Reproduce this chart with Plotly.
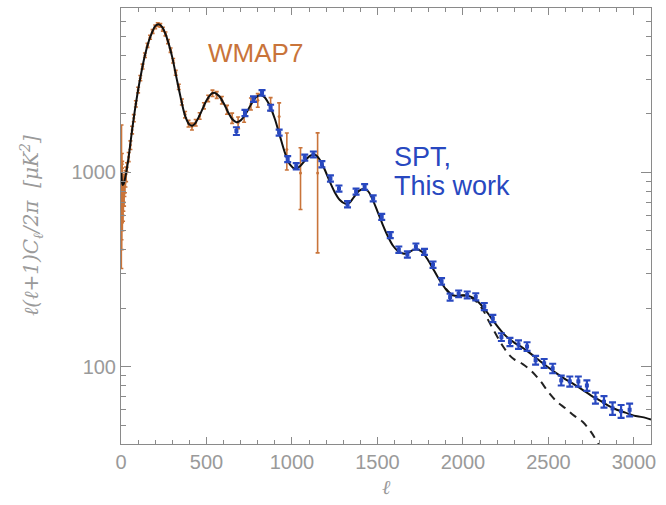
import plotly.graph_objects as go
import math

# ---------------- data ----------------
theory_ell = [2, 5, 10, 15, 20, 30, 40, 50, 65, 80, 100, 120, 140, 160, 180, 200, 220, 240, 260, 280,
              300, 325, 350, 375, 400, 420, 440, 470, 500, 530, 550, 575, 600, 625, 650, 675, 700, 730,
              760, 790, 815, 840, 870, 900, 930, 960, 990, 1020, 1050, 1080, 1110, 1135, 1160, 1190,
              1220, 1250, 1280, 1310, 1335, 1360, 1390, 1420, 1445, 1470, 1500, 1530, 1560, 1590, 1620,
              1650, 1675, 1700, 1730, 1760, 1790, 1820, 1850, 1880, 1910, 1940, 1970, 2000, 2030, 2060,
              2090, 2120, 2150, 2180, 2210, 2240, 2270, 2300, 2350, 2400, 2450, 2500, 2550, 2600, 2650,
              2700, 2750, 2800, 2850, 2900, 2950, 3000, 3050, 3100]
theory_dl = [1000, 900, 860, 870, 900, 990, 1120, 1300, 1650, 2050, 2650, 3300, 4000, 4650, 5200, 5650,
             5780, 5600, 5150, 4550, 3900, 3050, 2400, 1950, 1760, 1740, 1820, 2050, 2340, 2540, 2560,
             2460, 2270, 2050, 1880, 1810, 1850, 2000, 2230, 2430, 2500, 2430, 2200, 1880, 1530, 1250,
             1090, 1040, 1080, 1160, 1220, 1230, 1170, 1040, 900, 790, 720, 690, 695, 740, 800, 820, 800,
             730, 630, 540, 470, 420, 393, 382, 383, 395, 402, 390, 360, 325, 292, 265, 244, 233, 231,
             233, 232, 226, 215, 201, 186, 171, 158, 147, 139, 133, 125, 116, 107, 99, 92, 86, 81, 76, 71,
             67, 63, 60, 58, 56, 55, 53.5]

dashed_ell = [1900, 1940, 1970, 2000, 2030, 2060, 2090, 2120, 2150, 2180, 2210, 2240, 2270, 2300, 2350,
              2400, 2450, 2500, 2550, 2600, 2650, 2700, 2750, 2800, 2830]
dashed_dl = [252, 233, 231, 232, 230, 223, 211, 194, 172, 154, 138, 125, 115, 109, 103, 95, 85, 74, 66,
             61, 56, 52, 46, 39, 36]

wmap_ell = [2, 3, 4, 5, 6, 7, 8, 9, 10, 12, 14, 16, 18, 20, 23, 26, 30,
            35, 45, 55, 65, 75, 87, 100, 113, 126, 140, 155, 170, 185, 200, 215, 230, 245, 260, 275,
            290, 305, 320, 338, 356, 375, 395, 415, 437, 460, 485, 510, 535, 560, 590, 620, 650, 685,
            720, 760, 800, 875, 925, 970, 1050, 1150]
wmap_dl = [720, 1100, 750, 950, 800, 920, 680, 800, 750, 700, 760, 820, 780, 850, 880, 930, 980,
           1060, 1200, 1380, 1650, 1900, 2250, 2650, 3050, 3500, 4000, 4500, 4950, 5300, 5600, 5750,
           5700, 5450, 5150, 4700, 4250, 3750, 3250, 2750, 2300, 1980, 1780, 1720, 1800, 1950, 2200,
           2400, 2550, 2500, 2350, 2100, 1900, 1800, 1950, 2250, 2350, 2240, 1935, 1310, 990, 990]
wmap_err = [400, 650, 350, 300, 250, 220, 180, 170, 150, 140, 130, 120, 110, 100, 95, 90, 85,
            60, 65, 70, 75, 80, 85, 90, 95, 100, 105, 110, 115, 120, 125, 125, 125, 125, 120, 115,
            110, 100, 95, 85, 80, 75, 70, 70, 70, 75, 80, 90, 95, 100, 105, 110, 115, 125, 140, 160,
            190, 180, 340, 282, 347, 605]

spt_ell = [675, 725, 775, 825, 875, 925, 975, 1025, 1075, 1125, 1175, 1225, 1275, 1325, 1375, 1425,
           1475, 1525, 1575, 1625, 1675, 1725, 1775, 1825, 1875, 1925, 1975, 2025, 2075, 2125, 2175,
           2225, 2275, 2325, 2375, 2425, 2475, 2525, 2575, 2625, 2675, 2725, 2775, 2825, 2875, 2925,
           2975]
spt_dl = [1630, 2020, 2380, 2560, 2150, 1600, 1170, 1075, 1190, 1235, 1100, 930, 825, 685, 795, 840,
          735, 590, 475, 400, 378, 415, 390, 335, 275, 228, 237, 234, 229, 204, 177, 142, 134, 130,
          127, 108, 104, 98, 85, 84, 84, 80, 69, 66, 61, 59, 60]
spt_err = [75, 75, 80, 85, 75, 58, 42, 40, 42, 44, 40, 34, 30, 25, 28, 29, 26, 21, 17, 15, 14, 15,
           14, 12.5, 10.5, 9.5, 9.5, 9.5, 9.5, 8.5, 7.5, 6.5, 6.5, 6.5, 6.5, 5.5, 5.5, 5.5, 5, 5, 5,
           5, 4.5, 4.5, 4.5, 4.5, 4.5]

x_ticks = [0, 500, 1000, 1500, 2000, 2500, 3000]
y_ticks = [100, 1000]
y_minor = [40, 50, 60, 70, 80, 90, 200, 300, 400, 500, 600, 700, 800, 900,
           2000, 3000, 4000, 5000, 6000, 7000]

ORANGE = "#c9743a"
BLUE = "#2848c0"
GRAY = "#8a8a8a"
LABEL = "#9a9a9a"

fig = go.Figure()

fig.add_trace(go.Scatter(
    x=wmap_ell, y=wmap_dl, mode="markers",
    marker=dict(color=ORANGE, size=3),
    error_y=dict(type="data", array=wmap_err, color=ORANGE, thickness=1.6, width=2),
    showlegend=False))

fig.add_trace(go.Scatter(
    x=dashed_ell, y=dashed_dl, mode="lines",
    line=dict(color="#222222", width=2, dash="8px,6px", shape="spline"),
    showlegend=False))

fig.add_trace(go.Scatter(
    x=theory_ell, y=theory_dl, mode="lines",
    line=dict(color="#111111", width=2, shape="spline", smoothing=0.8),
    showlegend=False))

fig.add_trace(go.Scatter(
    x=spt_ell, y=spt_dl, mode="markers",
    marker=dict(color=BLUE, size=4, symbol="square"),
    error_y=dict(type="data", array=spt_err, color=BLUE, thickness=2.2, width=3.5),
    showlegend=False))

fig.update_layout(
    width=666, height=505,
    margin=dict(l=121, r=15, t=8, b=61),
    paper_bgcolor="white", plot_bgcolor="white",
    font=dict(family="Liberation Sans, Arial, sans-serif", color=LABEL),
    xaxis=dict(
        range=[0, 3100], tickvals=x_ticks, ticktext=[str(v) for v in x_ticks],
        ticks="inside", ticklen=7, tickcolor=GRAY, tickwidth=1,
        showline=True, linecolor=GRAY, linewidth=1, mirror="allticks",
        showgrid=False, zeroline=False,
        tickfont=dict(size=20, color=LABEL),
        minor=dict(dtick=100, tick0=0, ticks="inside", ticklen=4, tickcolor=GRAY, showgrid=False),
    ),
    yaxis=dict(
        type="log", range=[math.log10(40), math.log10(7000)],
        tickvals=y_ticks, ticktext=[str(v) for v in y_ticks],
        ticks="inside", ticklen=10, tickcolor=GRAY, tickwidth=1,
        showline=True, linecolor=GRAY, linewidth=1, mirror="allticks",
        showgrid=False, zeroline=False,
        tickfont=dict(size=20, color=LABEL),
        minor=dict(tickvals=y_minor, ticks="inside", ticklen=5, tickcolor=GRAY, showgrid=False),
    ),
    annotations=[
        dict(text="WMAP7", xref="paper", yref="paper", x=(206 - 121) / 530, y=(444 - 53) / 436,
             xanchor="left", yanchor="middle", showarrow=False,
             font=dict(size=26, color=ORANGE, family="Liberation Sans, Arial, sans-serif")),
        dict(text="SPT,", xref="paper", yref="paper", x=(392 - 121) / 530, y=(444 - 157) / 436,
             xanchor="left", yanchor="middle", showarrow=False,
             font=dict(size=27, color=BLUE, family="Liberation Sans, Arial, sans-serif")),
        dict(text="This work", xref="paper", yref="paper", x=(392 - 121) / 530, y=(444 - 186) / 436,
             xanchor="left", yanchor="middle", showarrow=False,
             font=dict(size=27, color=BLUE, family="Liberation Sans, Arial, sans-serif")),
        dict(text="<i>ℓ(ℓ+1)C<sub>ℓ</sub>/2π  [μK<sup>2</sup>]</i>", xref="paper", yref="paper",
             x=(31 - 121) / 530, y=0.5, xanchor="center", yanchor="middle", textangle=-90,
             showarrow=False, font=dict(size=20, color=LABEL, family="DejaVu Serif, serif")),
        dict(text="<i>ℓ</i>", xref="paper", yref="paper", x=0.5, y=(444 - 487) / 436,
             xanchor="center", yanchor="middle", showarrow=False,
             font=dict(size=20, color=LABEL, family="DejaVu Serif, serif")),
    ],
)

fig.write_html("out.html")
